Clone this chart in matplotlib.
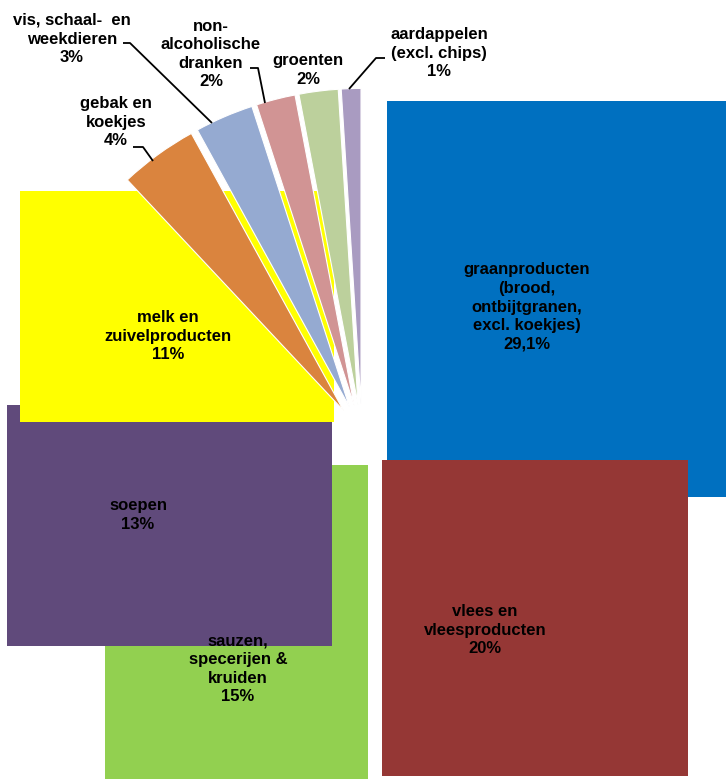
import numpy as np
import matplotlib
matplotlib.use("Agg")
import matplotlib.pyplot as plt
from matplotlib.patches import Rectangle

# ---- data ----
labels = [
    "graanproducten\n(brood,\nontbijtgranen,\nexcl. koekjes)",
    "vlees en\nvleesproducten",
    "sauzen,\nspecerijen &\nkruiden",
    "soepen",
    "melk en\nzuivelproducten",
    "gebak en\nkoekjes",
    "vis, schaal-  en\nweekdieren",
    "non-\nalcoholische\ndranken",
    "groenten",
    "aardappelen\n(excl. chips)",
]
values = [29.1, 20, 15, 13, 11, 4, 3, 2, 2, 1]
pct_labels = ["29,1%", "20%", "15%", "13%", "11%", "4%", "3%", "2%", "2%", "1%"]
colors = ["#0070C0", "#953735", "#92D050", "#604A7B", "#FFFF00",
          "#DA843E", "#95AAD1", "#D19494", "#BCD09C", "#A99BC1"]

# ---- layout ----
W, H = 726, 779
CX, CY, RPX = 362, 436, 316  # pie centre and radius in pixels


def P(px, py):
    return ((px - CX) / RPX, (CY - py) / RPX)


fig = plt.figure(figsize=(W / 100, H / 100), dpi=100)
ax = fig.add_axes([0, 0, 1, 1])
ax.axis("off")

wedges, _ = ax.pie(values, startangle=90, counterclock=False,
                   explode=[0.1] * len(values), radius=1, colors=colors,
                   wedgeprops=dict(edgecolor="white", linewidth=0.8))

n_big = 5  # the large slices are rendered as their (bezier) bounding boxes


def bezier_bbox(w):
    cx, cy = w.center
    r = w.r
    t1, t2 = np.radians(w.theta1), np.radians(w.theta2)
    k = 4 / 3 * np.tan((t2 - t1) / 4)
    p1 = np.array([cx + r * np.cos(t1), cy + r * np.sin(t1)])
    p2 = np.array([cx + r * np.cos(t2), cy + r * np.sin(t2)])
    c1 = p1 + k * r * np.array([-np.sin(t1), np.cos(t1)])
    c2 = p2 - k * r * np.array([-np.sin(t2), np.cos(t2)])
    pts = np.array([[cx, cy], p1, c1, c2, p2])
    return pts[:, 0].min(), pts[:, 1].min(), pts[:, 0].max(), pts[:, 1].max()


for i, w in enumerate(wedges):
    w.set_zorder(2 + i * 0.01)
    if i < n_big:
        x0, y0, x1, y1 = bezier_bbox(w)
        w.set_visible(False)
        ax.add_patch(Rectangle((x0, y0), x1 - x0, y1 - y0,
                               facecolor=colors[i], edgecolor="none",
                               zorder=2 + i * 0.01))

ax.set_xlim(-CX / RPX, (W - CX) / RPX)
ax.set_ylim(-(H - CY) / RPX, CY / RPX)
ax.set_aspect("equal")

font = dict(family=["Liberation Sans", "DejaVu Sans"], fontweight="bold",
            fontsize=12, color="black", ha="center", va="center",
            linespacing=1.3, zorder=10)

label_pos = [(527, 307), (485, 630), (238, 669), (138, 515), (168, 336),
             (116, 122), (72, 39), (211, 54), (308, 70), (439, 53)]

for lab, pct, (px, py) in zip(labels, pct_labels, label_pos):
    x, y = P(px, py)
    ax.text(x, y, lab + "\n" + pct, **font)

# leader lines for the small slices
leaders = [
    [(133, 147), (143, 147), (153, 161)],
    [(123, 43), (130, 43), (212, 123)],
    [(250, 68), (258, 68), (265, 103)],
    [(385, 58), (376, 58), (349, 89)],
]
for pts in leaders:
    xy = np.array([P(*p) for p in pts])
    ax.plot(xy[:, 0], xy[:, 1], color="black", lw=1.3, zorder=9,
            solid_capstyle="butt")

fig.savefig("out.png", dpi=100)
